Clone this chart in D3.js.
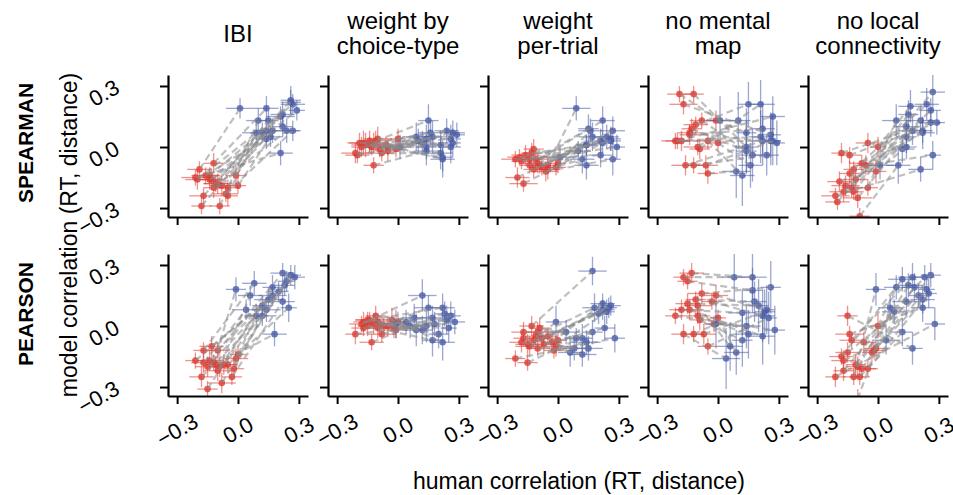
<!DOCTYPE html>
<html>
<head>
<meta charset="utf-8">
<script src="https://cdn.jsdelivr.net/npm/d3@7"></script>
<style>
  body { margin: 0; background: #fff; }
  text { font-family: "Liberation Sans", Arial, Helvetica, sans-serif; fill: #000; }
</style>
</head>
<body>
<svg id="chart" width="953" height="495"></svg>
<script>
// ---- labels
const modelNames = [["IBI"], ["weight by", "choice-type"], ["weight", "per-trial"], ["no mental", "map"], ["no local", "connectivity"]];
const rowNames = ["SPEARMAN", "PEARSON"];
const tickValues = [-0.3, 0.0, 0.3];
const tickLabels = ["\u22120.3", "0.0", "0.3"];

// ---- human correlations (x), shared by every model in a row
const spearmanRedX = [-0.19, -0.12, -0.17, -0.20, -0.18, -0.14, -0.14, -0.10, -0.09, -0.11, -0.05, -0.05, -0.01, 0.00, -0.08, -0.16, -0.12, -0.06, -0.21, -0.13];
const spearmanRedXErr = [0.06, 0.05, 0.07, 0.06, 0.05, 0.06, 0.05, 0.07, 0.05, 0.06, 0.05, 0.06, 0.05, 0.04, 0.06, 0.07, 0.05, 0.06, 0.07, 0.05];
const spearmanBlueX = [0.01, 0.14, 0.26, 0.27, 0.26, 0.29, 0.22, 0.21, 0.10, 0.15, 0.09, 0.12, 0.14, 0.16, 0.17, 0.22, 0.24, 0.27, 0.21, 0.14];
const spearmanBlueXErr = [0.07, 0.06, 0.05, 0.06, 0.05, 0.04, 0.06, 0.07, 0.06, 0.05, 0.07, 0.06, 0.05, 0.06, 0.07, 0.05, 0.06, 0.04, 0.06, 0.05];

const pearsonRedX = [-0.17, -0.13, -0.15, -0.08, -0.11, -0.01, -0.03, -0.18, -0.21, -0.14, -0.10, -0.09, 0.00, -0.17, -0.12, -0.07, -0.05, -0.10, -0.02, -0.15];
const pearsonRedXErr = [0.05, 0.06, 0.05, 0.07, 0.05, 0.06, 0.05, 0.06, 0.05, 0.07, 0.06, 0.05, 0.04, 0.06, 0.05, 0.06, 0.05, 0.07, 0.05, 0.06];
const pearsonBlueX = [0.08, 0.17, 0.17, 0.26, 0.18, 0.24, 0.22, 0.12, 0.28, 0.22, 0.15, 0.12, 0.09, 0.04, -0.01, 0.23, 0.25, 0.06, 0.14, 0.20];
const pearsonBlueXErr = [0.06, 0.07, 0.05, 0.05, 0.06, 0.04, 0.06, 0.07, 0.05, 0.06, 0.07, 0.05, 0.06, 0.07, 0.05, 0.05, 0.04, 0.06, 0.07, 0.05];

// ---- model correlations (y), SPEARMAN row
const spIbiRedY = [-0.11, -0.08, -0.24, -0.16, -0.29, -0.16, -0.14, -0.18, -0.29, -0.18, -0.24, -0.20, -0.14, -0.19, -0.19, -0.14, -0.20, -0.23, -0.15, -0.16];
const spIbiRedYErr = [0.04, 0.05, 0.04, 0.05, 0.04, 0.05, 0.04, 0.05, 0.04, 0.04, 0.05, 0.04, 0.05, 0.04, 0.05, 0.04, 0.05, 0.04, 0.04, 0.05];
const spIbiBlueY = [0.19, 0.19, 0.23, 0.21, 0.22, 0.18, 0.16, 0.15, 0.13, 0.13, 0.07, 0.07, 0.08, 0.05, 0.08, 0.10, 0.08, 0.08, -0.03, 0.04];
const spIbiBlueYErr = [0.05, 0.06, 0.07, 0.05, 0.06, 0.05, 0.06, 0.05, 0.06, 0.05, 0.06, 0.05, 0.06, 0.05, 0.06, 0.05, 0.06, 0.05, 0.06, 0.05];

const spChoiceRedY = [0.02, -0.09, 0.02, -0.04, 0.00, 0.01, 0.03, 0.04, -0.01, 0.03, 0.00, -0.02, -0.01, 0.04, -0.03, 0.01, 0.02, 0.01, -0.03, 0.00];
const spChoiceRedYErr = [0.05, 0.04, 0.06, 0.04, 0.05, 0.04, 0.05, 0.06, 0.04, 0.05, 0.04, 0.05, 0.04, 0.05, 0.04, 0.06, 0.05, 0.04, 0.05, 0.04];
const spChoiceBlueY = [0.00, -0.02, 0.00, 0.07, 0.04, 0.06, -0.06, 0.01, 0.03, 0.13, 0.05, 0.02, 0.04, 0.07, 0.05, -0.05, 0.08, 0.02, -0.03, 0.00];
const spChoiceBlueYErr = [0.06, 0.07, 0.08, 0.06, 0.07, 0.06, 0.09, 0.07, 0.06, 0.08, 0.07, 0.06, 0.07, 0.06, 0.08, 0.07, 0.06, 0.07, 0.08, 0.06];

const spTrialRedY = [-0.05, -0.01, -0.18, -0.15, -0.07, -0.06, -0.09, -0.08, -0.09, -0.06, -0.09, -0.11, -0.10, -0.08, -0.10, -0.04, -0.11, -0.12, -0.06, -0.03];
const spTrialRedYErr = [0.04, 0.05, 0.04, 0.05, 0.04, 0.05, 0.04, 0.05, 0.04, 0.05, 0.04, 0.05, 0.04, 0.05, 0.04, 0.05, 0.04, 0.05, 0.04, 0.05];
const spTrialBlueY = [-0.05, -0.09, 0.04, 0.08, 0.03, 0.00, 0.13, 0.03, -0.02, 0.09, 0.19, -0.06, 0.01, 0.08, 0.05, 0.02, 0.05, -0.06, -0.04, 0.01];
const spTrialBlueYErr = [0.05, 0.07, 0.06, 0.07, 0.05, 0.06, 0.07, 0.06, 0.05, 0.07, 0.06, 0.07, 0.05, 0.06, 0.07, 0.05, 0.06, 0.08, 0.06, 0.05];

const spMapRedY = [0.26, 0.26, 0.21, 0.03, 0.03, 0.07, 0.06, 0.00, -0.01, 0.11, -0.13, 0.03, 0.13, 0.02, 0.13, -0.09, -0.09, -0.09, 0.03, 0.09];
const spMapRedYErr = [0.04, 0.04, 0.05, 0.04, 0.05, 0.04, 0.05, 0.04, 0.05, 0.04, 0.05, 0.04, 0.05, 0.04, 0.04, 0.05, 0.04, 0.05, 0.04, 0.05];
const spMapBlueY = [0.13, 0.00, 0.06, 0.15, 0.03, 0.02, 0.09, 0.21, 0.13, 0.21, -0.12, -0.14, 0.07, -0.09, -0.04, 0.03, -0.04, 0.03, 0.05, -0.02];
const spMapBlueYErr = [0.12, 0.13, 0.11, 0.10, 0.12, 0.11, 0.13, 0.12, 0.14, 0.11, 0.13, 0.15, 0.12, 0.11, 0.13, 0.12, 0.10, 0.12, 0.13, 0.11];

const spLocalRedY = [-0.17, -0.22, -0.22, -0.27, -0.03, -0.04, -0.13, -0.25, -0.34, -0.16, -0.20, 0.02, -0.12, 0.00, -0.08, -0.19, -0.11, -0.09, -0.24, -0.20];
const spLocalRedYErr = [0.05, 0.04, 0.05, 0.04, 0.05, 0.04, 0.06, 0.05, 0.04, 0.05, 0.04, 0.05, 0.06, 0.05, 0.04, 0.05, 0.04, 0.05, 0.04, 0.05];
const spLocalBlueY = [-0.09, 0.10, 0.18, 0.27, 0.12, 0.12, 0.07, 0.13, -0.09, 0.16, 0.13, -0.01, 0.00, 0.20, 0.08, 0.08, 0.21, -0.04, -0.11, 0.05];
const spLocalBlueYErr = [0.07, 0.08, 0.06, 0.09, 0.07, 0.06, 0.08, 0.07, 0.09, 0.07, 0.08, 0.07, 0.06, 0.08, 0.07, 0.06, 0.08, 0.07, 0.06, 0.08];

// ---- model correlations (y), PEARSON row
const peIbiRedY = [-0.12, -0.10, -0.31, -0.28, -0.19, -0.16, -0.25, -0.25, -0.17, -0.17, -0.12, -0.20, -0.14, -0.18, -0.18, -0.19, -0.19, -0.22, -0.21, -0.20];
const peIbiRedYErr = [0.04, 0.05, 0.04, 0.05, 0.04, 0.05, 0.04, 0.05, 0.04, 0.05, 0.04, 0.05, 0.04, 0.05, 0.04, 0.05, 0.04, 0.05, 0.04, 0.05];
const peIbiBlueY = [0.21, 0.15, 0.19, 0.25, -0.04, 0.22, 0.12, 0.05, 0.24, 0.26, 0.13, 0.10, 0.05, 0.08, 0.18, 0.20, 0.09, 0.15, 0.08, 0.17];
const peIbiBlueYErr = [0.06, 0.05, 0.06, 0.05, 0.06, 0.05, 0.07, 0.05, 0.06, 0.05, 0.06, 0.05, 0.06, 0.05, 0.06, 0.05, 0.07, 0.05, 0.06, 0.05];

const peChoiceRedY = [0.02, -0.08, 0.00, -0.04, 0.05, -0.02, 0.03, 0.01, -0.04, 0.03, -0.01, 0.01, 0.02, -0.01, 0.01, 0.00, 0.00, 0.02, -0.01, 0.03];
const peChoiceRedYErr = [0.05, 0.04, 0.05, 0.04, 0.05, 0.04, 0.06, 0.04, 0.05, 0.04, 0.05, 0.04, 0.05, 0.04, 0.05, 0.04, 0.05, 0.04, 0.05, 0.04];
const peChoiceBlueY = [0.04, 0.04, -0.07, 0.05, 0.01, 0.03, -0.08, 0.15, 0.02, 0.09, 0.09, -0.02, -0.02, 0.02, 0.01, 0.06, -0.01, 0.00, 0.00, -0.04];
const peChoiceBlueYErr = [0.07, 0.06, 0.08, 0.07, 0.06, 0.07, 0.09, 0.08, 0.06, 0.07, 0.06, 0.07, 0.08, 0.06, 0.07, 0.06, 0.07, 0.06, 0.08, 0.07];

const peTrialRedY = [-0.06, 0.00, -0.18, -0.06, -0.05, -0.10, -0.08, -0.08, -0.16, -0.10, -0.11, -0.01, -0.07, -0.03, -0.07, -0.09, -0.05, -0.03, -0.12, -0.09];
const peTrialRedYErr = [0.04, 0.05, 0.04, 0.05, 0.04, 0.05, 0.04, 0.05, 0.04, 0.05, 0.04, 0.05, 0.04, 0.05, 0.04, 0.05, 0.04, 0.05, 0.04, 0.05];
const peTrialBlueY = [-0.11, 0.27, -0.03, 0.10, 0.09, 0.07, 0.11, -0.14, -0.06, 0.08, -0.11, -0.06, -0.06, -0.03, 0.02, -0.01, 0.09, -0.13, -0.08, 0.06];
const peTrialBlueYErr = [0.06, 0.07, 0.06, 0.05, 0.07, 0.06, 0.05, 0.06, 0.07, 0.05, 0.06, 0.07, 0.05, 0.06, 0.08, 0.06, 0.05, 0.07, 0.06, 0.05];

const peMapRedY = [0.24, 0.26, 0.22, 0.16, 0.13, 0.15, 0.12, 0.08, 0.05, 0.08, 0.05, 0.03, 0.04, -0.04, -0.04, -0.04, -0.10, 0.10, 0.01, 0.11];
const peMapRedYErr = [0.04, 0.05, 0.04, 0.05, 0.04, 0.05, 0.04, 0.05, 0.04, 0.05, 0.04, 0.05, 0.04, 0.05, 0.04, 0.05, 0.04, 0.05, 0.04, 0.05];
const peMapBlueY = [0.24, 0.24, 0.175, 0.19, 0.12, 0.08, 0.05, 0.065, -0.02, -0.05, -0.04, -0.07, -0.13, -0.16, 0.01, 0.07, 0.04, -0.10, 0.00, 0.10];
const peMapBlueYErr = [0.12, 0.14, 0.11, 0.13, 0.10, 0.12, 0.13, 0.11, 0.12, 0.14, 0.12, 0.13, 0.11, 0.15, 0.12, 0.11, 0.13, 0.12, 0.11, 0.13];

const peLocalRedY = [-0.22, -0.07, 0.05, -0.21, -0.19, -0.11, -0.13, -0.15, -0.25, -0.04, -0.20, -0.25, 0.00, -0.17, -0.25, -0.08, -0.21, -0.36, -0.12, -0.13];
const peLocalRedYErr = [0.05, 0.04, 0.05, 0.04, 0.05, 0.04, 0.05, 0.04, 0.05, 0.04, 0.05, 0.04, 0.06, 0.05, 0.04, 0.05, 0.04, 0.05, 0.04, 0.05];
const peLocalBlueY = [0.07, 0.24, -0.11, 0.25, 0.19, 0.18, 0.13, 0.23, 0.01, 0.09, 0.20, -0.03, 0.19, -0.07, 0.18, 0.24, 0.16, 0.09, 0.12, 0.15];
const peLocalBlueYErr = [0.06, 0.07, 0.08, 0.06, 0.07, 0.06, 0.07, 0.06, 0.08, 0.07, 0.06, 0.07, 0.06, 0.07, 0.08, 0.06, 0.07, 0.06, 0.07, 0.06];

// table the drawing loop needs, built from the arrays above
const rowHuman = [
  { redX: spearmanRedX, redXErr: spearmanRedXErr, blueX: spearmanBlueX, blueXErr: spearmanBlueXErr },
  { redX: pearsonRedX, redXErr: pearsonRedXErr, blueX: pearsonBlueX, blueXErr: pearsonBlueXErr }
];
const panelModel = [
  [
    [spIbiRedY, spIbiRedYErr, spIbiBlueY, spIbiBlueYErr],
    [spChoiceRedY, spChoiceRedYErr, spChoiceBlueY, spChoiceBlueYErr],
    [spTrialRedY, spTrialRedYErr, spTrialBlueY, spTrialBlueYErr],
    [spMapRedY, spMapRedYErr, spMapBlueY, spMapBlueYErr],
    [spLocalRedY, spLocalRedYErr, spLocalBlueY, spLocalBlueYErr]
  ],
  [
    [peIbiRedY, peIbiRedYErr, peIbiBlueY, peIbiBlueYErr],
    [peChoiceRedY, peChoiceRedYErr, peChoiceBlueY, peChoiceBlueYErr],
    [peTrialRedY, peTrialRedYErr, peTrialBlueY, peTrialBlueYErr],
    [peMapRedY, peMapRedYErr, peMapBlueY, peMapBlueYErr],
    [peLocalRedY, peLocalRedYErr, peLocalBlueY, peLocalBlueYErr]
  ]
];

// ---- layout
var panelW = 140, panelH = 142, left0 = 168, stepX = 160;
var rowTop = [75, 254];
var rowLabelY = [143, 314];
var red = "#e0382f", blue = "#4a5ca8";

var svg = d3.select("#chart");

var x = d3.scaleLinear().domain([-0.345, 0.345]).range([0, panelW]);
var y = d3.scaleLinear().domain([-0.344, 0.354]).range([panelH, 0]);

svg.append("defs").append("clipPath").attr("id", "clip")
  .append("rect").attr("width", panelW).attr("height", panelH);

// column titles
modelNames.forEach(function (lines, c) {
  var t = svg.append("text")
    .attr("x", left0 + c * stepX + panelW / 2)
    .attr("text-anchor", "middle")
    .style("font-size", "24px");
  if (lines.length == 1) {
    t.attr("y", 42).text(lines[0]);
  } else {
    lines.forEach(function (l, i) {
      t.append("tspan").attr("x", left0 + c * stepX + panelW / 2).attr("y", 29 + i * 25).text(l);
    });
  }
});

function drawPoints(g, xs, xErr, ys, yErr, color) {
  var pts = xs.map(function (d, i) { return { x: d, xe: xErr[i], y: ys[i], ye: yErr[i] }; });
  g.selectAll(null).data(pts).enter().append("line")
    .attr("x1", d => x(d.x - d.xe)).attr("x2", d => x(d.x + d.xe))
    .attr("y1", d => y(d.y)).attr("y2", d => y(d.y))
    .attr("stroke", color).attr("stroke-width", 1.3).attr("stroke-opacity", 0.55);
  g.selectAll(null).data(pts).enter().append("line")
    .attr("x1", d => x(d.x)).attr("x2", d => x(d.x))
    .attr("y1", d => y(d.y - d.ye)).attr("y2", d => y(d.y + d.ye))
    .attr("stroke", color).attr("stroke-width", 1.3).attr("stroke-opacity", 0.55);
  g.selectAll(null).data(pts).enter().append("circle")
    .attr("cx", d => x(d.x)).attr("cy", d => y(d.y))
    .attr("r", 3.3)
    .attr("fill", color).attr("fill-opacity", 0.8);
}

rowHuman.forEach(function (h, r) {
  panelModel[r].forEach(function (m, c) {
    var g = svg.append("g")
      .attr("transform", "translate(" + (left0 + c * stepX) + "," + rowTop[r] + ")");

    var plot = g.append("g").attr("clip-path", "url(#clip)");
    drawPoints(plot, h.redX, h.redXErr, m[0], m[1], red);
    drawPoints(plot, h.blueX, h.blueXErr, m[2], m[3], blue);

    // dashed lines linking each subject's two conditions
    plot.selectAll(null).data(h.redX).enter().append("line")
      .attr("x1", (d, i) => x(h.redX[i])).attr("y1", (d, i) => y(m[0][i]))
      .attr("x2", (d, i) => x(h.blueX[i])).attr("y2", (d, i) => y(m[2][i]))
      .attr("stroke", "#8a8a8a").attr("stroke-width", 2.2)
      .attr("stroke-dasharray", "7,4").attr("stroke-opacity", 0.55);

    // axes
    var xa = g.append("g").attr("transform", "translate(0," + panelH + ")")
      .call(d3.axisBottom(x).tickValues(tickValues).tickFormat("").tickSize(8).tickSizeOuter(0));
    var ya = g.append("g")
      .call(d3.axisLeft(y).tickValues(tickValues).tickFormat("").tickSize(8).tickSizeOuter(0));
    [xa, ya].forEach(function (a) {
      a.select(".domain").attr("stroke-width", 2.2);
      a.selectAll(".tick line").attr("stroke-width", 2);
    });

    // rotated tick labels
    if (r == 1) {
      tickValues.forEach(function (v, i) {
        g.append("text")
          .attr("transform", "translate(" + x(v) + "," + (panelH + 34) + ") rotate(-30)")
          .attr("text-anchor", "middle").attr("dy", "0.35em")
          .style("font-size", "22px")
          .text(tickLabels[i]);
      });
    }
    if (c == 0) {
      tickValues.forEach(function (v, i) {
        g.append("text")
          .attr("transform", "translate(-47," + (y(v) + 6) + ") rotate(-30)")
          .attr("text-anchor", "end")
          .style("font-size", "22px")
          .text(tickLabels[i]);
      });
    }
  });
});

// row labels
rowNames.forEach(function (name, r) {
  svg.append("text")
    .attr("transform", "translate(33," + rowLabelY[r] + ") rotate(-90)")
    .attr("text-anchor", "middle")
    .style("font-size", "21px").style("font-weight", "bold")
    .text(name);
});

// axis titles
svg.append("text")
  .attr("transform", "translate(77,235) rotate(-90)")
  .attr("text-anchor", "middle")
  .style("font-size", "23px")
  .text("model correlation (RT, distance)");

svg.append("text")
  .attr("x", 579).attr("y", 489)
  .attr("text-anchor", "middle")
  .style("font-size", "23px")
  .text("human correlation (RT, distance)");
</script>
</body>
</html>
